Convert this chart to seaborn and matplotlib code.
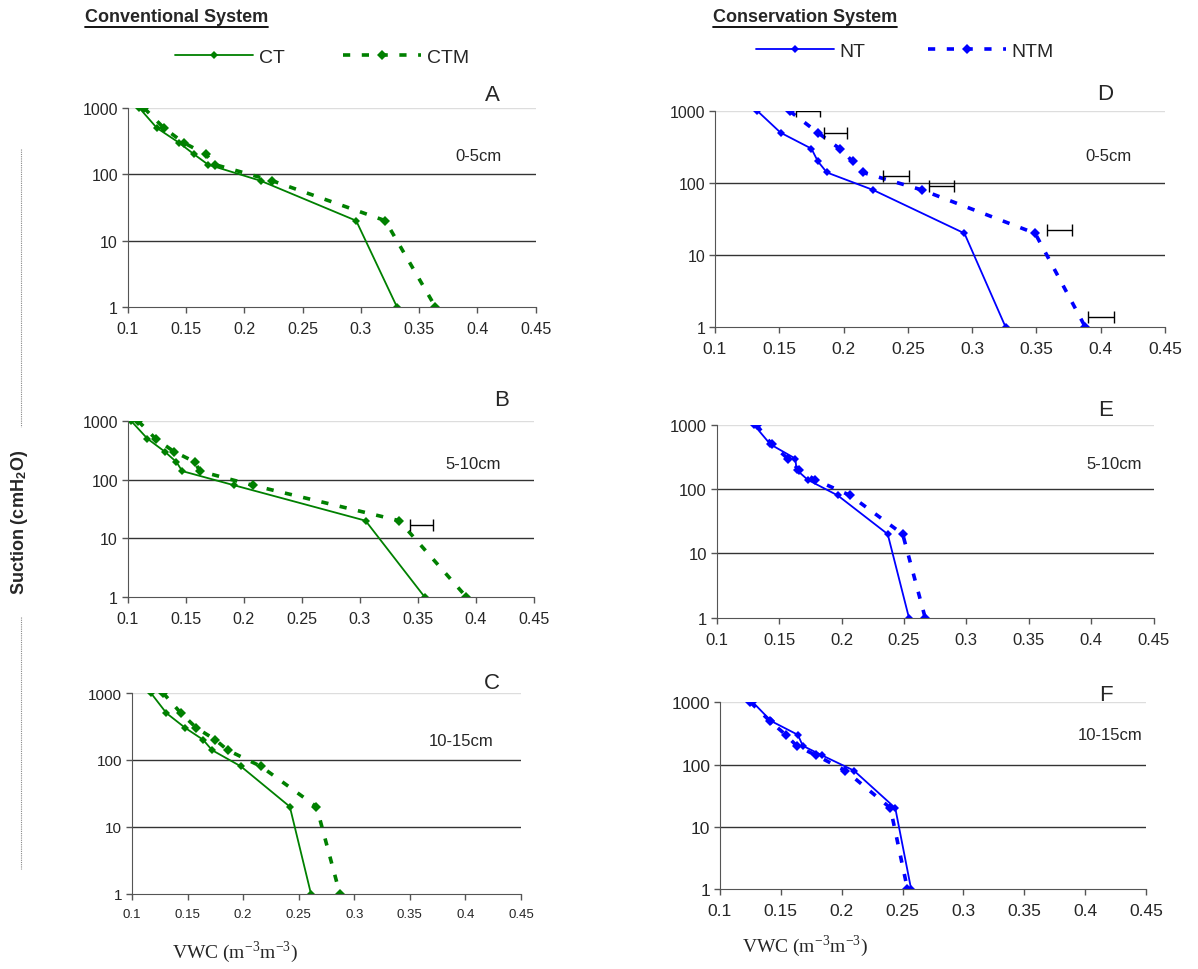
import numpy as np
import pandas as pd
import matplotlib.pyplot as plt
import seaborn as sns
from matplotlib.lines import Line2D

sns.set_style("white")
plt.rcParams["font.family"] = ["Liberation Sans", "DejaVu Sans"]
plt.rcParams["mathtext.fontset"] = "stix"

# suction levels (cmH2O) shared by all curves
suction = [1000, 500, 300, 200, 140, 80, 20, 1]

# volumetric water content
ct_0_5 = [0.110, 0.125, 0.144, 0.157, 0.169, 0.214, 0.296, 0.331]
ctm_0_5 = [0.114, 0.131, 0.148, 0.167, 0.175, 0.224, 0.321, 0.364]
ct_5_10 = [0.103, 0.117, 0.132, 0.142, 0.147, 0.192, 0.305, 0.356]
ctm_5_10 = [0.109, 0.124, 0.140, 0.158, 0.162, 0.208, 0.334, 0.392]
ct_10_15 = [0.117, 0.131, 0.148, 0.164, 0.172, 0.198, 0.242, 0.261]
ctm_10_15 = [0.128, 0.144, 0.158, 0.175, 0.186, 0.216, 0.266, 0.287]

nt_0_5 = [0.133, 0.151, 0.175, 0.180, 0.187, 0.223, 0.294, 0.326]
ntm_0_5 = [0.158, 0.180, 0.197, 0.207, 0.215, 0.261, 0.349, 0.388]
nt_5_10 = [0.130, 0.143, 0.163, 0.164, 0.173, 0.197, 0.237, 0.254]
ntm_5_10 = [0.132, 0.144, 0.157, 0.166, 0.179, 0.207, 0.249, 0.267]
nt_10_15 = [0.127, 0.142, 0.164, 0.168, 0.184, 0.210, 0.244, 0.257]
ntm_10_15 = [0.125, 0.141, 0.154, 0.163, 0.179, 0.203, 0.240, 0.254]

# horizontal error bars: suction, low and high VWC
err_d_y = [1000, 500, 125, 90, 22, 1.36]
err_d_lo = [0.163, 0.1845, 0.231, 0.2666, 0.358, 0.390]
err_d_hi = [0.182, 0.203, 0.251, 0.2858, 0.378, 0.410]
err_b_y = [16.6]
err_b_lo = [0.343]
err_b_hi = [0.3635]

xticks = [0.1, 0.15, 0.2, 0.25, 0.3, 0.35, 0.4, 0.45]
yticks = [1, 10, 100, 1000]

GREEN = "#008000"
BLUE = "#0000ff"

W, H = 1198, 970
fig = plt.figure(figsize=(W / 100, H / 100), dpi=100)


def axes_px(left, top, right, bottom):
    return fig.add_axes([left / W, 1 - bottom / H, (right - left) / W, (bottom - top) / H])


def draw_panel(ax, solid, dashed, color, letter, depth, xfs, yfs, letter_pos, depth_pos):
    df = pd.DataFrame({"vwc": solid, "suction": suction})
    sns.lineplot(data=df, x="vwc", y="suction", ax=ax, sort=False, estimator=None,
                 color=color, lw=1.3, marker="D", markersize=4.5, markeredgewidth=0)
    df2 = pd.DataFrame({"vwc": dashed, "suction": suction})
    sns.lineplot(data=df2, x="vwc", y="suction", ax=ax, sort=False, estimator=None,
                 color=color, lw=2.6, linestyle=(0, (2, 3.2)), marker="D",
                 markersize=5, markeredgewidth=0)
    ax.set_yscale("log")
    ax.set_xlim(0.1, 0.45)
    ax.set_ylim(1, 1000)
    ax.set_yticks(yticks)
    ax.set_yticklabels([str(v) for v in yticks], fontsize=yfs)
    ax.set_xticks(xticks)
    ax.set_xticklabels([f"{v:g}" for v in xticks], fontsize=xfs)
    ax.minorticks_off()
    ax.tick_params(axis="both", direction="out", length=4, width=1, color="#555555",
                   left=True, bottom=True, pad=3)
    ax.tick_params(axis="x", pad=6)
    for v in [10, 100]:
        ax.axhline(v, color="#333333", lw=1, zorder=0)
    ax.axhline(1000, color="#dddddd", lw=1, zorder=0)
    for s in ["top", "right"]:
        ax.spines[s].set_visible(False)
    ax.spines["left"].set_color("#555555")
    ax.spines["bottom"].set_color("#555555")
    ax.set_xlabel("")
    ax.set_ylabel("")
    ax.text(letter_pos[0], letter_pos[1], letter, transform=ax.transAxes,
            fontsize=16, ha="center", va="center")
    ax.text(depth_pos[0], depth_pos[1], depth, transform=ax.transAxes,
            fontsize=12, ha="center", va="center")


def draw_err(ax, ys, lo, hi):
    lo = np.array(lo)
    hi = np.array(hi)
    mid = (lo + hi) / 2
    ax.errorbar(mid, ys, xerr=(hi - lo) / 2, fmt="none", ecolor="black",
                elinewidth=1, capsize=4, capthick=1, zorder=5)


axA = axes_px(127.7, 109, 535.7, 308)
axB = axes_px(127.7, 422, 533.7, 598)
axC = axes_px(132, 694, 521, 894.7)
axD = axes_px(715, 112, 1165, 328)
axE = axes_px(716.7, 426, 1153.6, 618.7)
axF = axes_px(720, 703.3, 1146, 890)

draw_panel(axA, ct_0_5, ctm_0_5, GREEN, "A", "0-5cm", 11.5, 11.5, (0.893, 1.07), (0.86, 0.76))
draw_panel(axB, ct_5_10, ctm_5_10, GREEN, "B", "5-10cm", 11.5, 11.5, (0.92, 1.12), (0.85, 0.76))
draw_panel(axC, ct_10_15, ctm_10_15, GREEN, "C", "10-15cm", 9.5, 11, (0.925, 1.05), (0.845, 0.765))
draw_panel(axD, nt_0_5, ntm_0_5, BLUE, "D", "0-5cm", 12.5, 11.5, (0.868, 1.08), (0.875, 0.795))
draw_panel(axE, nt_5_10, ntm_5_10, BLUE, "E", "5-10cm", 12, 12, (0.89, 1.08), (0.91, 0.8))
draw_panel(axF, nt_10_15, ntm_10_15, BLUE, "F", "10-15cm", 12.5, 12.5, (0.905, 1.04), (0.915, 0.825))

draw_err(axD, err_d_y, err_d_lo, err_d_hi)
draw_err(axB, err_b_y, err_b_lo, err_b_hi)

# headings with underline
for x0, txt in [(85, "Conventional System"), (713, "Conservation System")]:
    t = fig.text(x0 / W, 1 - 18 / H, txt, fontsize=13, fontweight="bold",
                 ha="left", va="center")
    fig.canvas.draw()
    bb = t.get_window_extent()
    fig.add_artist(Line2D([bb.x0 / W, bb.x1 / W], [(bb.y0 - 1) / H, (bb.y0 - 1) / H],
                          color="black", lw=1.3))

# legends
def legend_handles(color):
    return [Line2D([], [], color=color, lw=1.3, marker="D", markersize=4.5, markeredgewidth=0),
            Line2D([], [], color=color, lw=2.6, linestyle=(0, (2, 3.2)), marker="D",
                   markersize=5, markeredgewidth=0)]


fig.legend(legend_handles(GREEN), ["CT", "CTM"], loc="center",
           bbox_to_anchor=(322 / W, 1 - 58 / H), ncol=2, frameon=False, fontsize=14,
           handlelength=4.0, handletextpad=0.3, columnspacing=3.0)
fig.legend(legend_handles(BLUE), ["NT", "NTM"], loc="center",
           bbox_to_anchor=(905 / W, 1 - 52 / H), ncol=2, frameon=False, fontsize=14,
           handlelength=4.0, handletextpad=0.3, columnspacing=3.2)

# y label with dotted guide lines
fig.text(20 / W, 1 - 522 / H, r"Suction (cmH$_\mathregular{2}$O)", rotation=90,
         fontsize=13, fontweight="bold", ha="center", va="center")
fig.add_artist(Line2D([21 / W, 21 / W], [1 - 150 / H, 1 - 428 / H],
                      color="#888888", lw=0.8, linestyle=(0, (1, 1))))
fig.add_artist(Line2D([21 / W, 21 / W], [1 - 618 / H, 1 - 870 / H],
                      color="#888888", lw=0.8, linestyle=(0, (1, 1))))

# x labels
fig.text(235 / W, 1 - 952 / H, r"VWC (m$^{\mathregular{-3}}$m$^{\mathregular{-3}}$)",
         fontsize=14, family="Liberation Serif", ha="center", va="center")
fig.text(805 / W, 1 - 946 / H, r"VWC (m$^{\mathregular{-3}}$m$^{\mathregular{-3}}$)",
         fontsize=14, family="Liberation Serif", ha="center", va="center")

fig.savefig("out.png", dpi=100)
